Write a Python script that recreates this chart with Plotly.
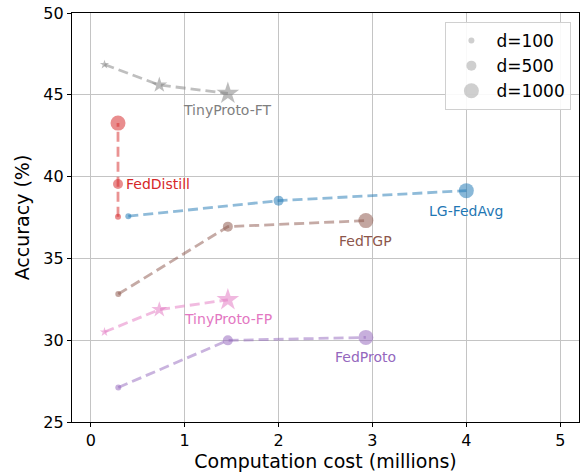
import plotly.graph_objects as go

# Computation cost (millions) and accuracy (%) for d = 100, 500, 1000
methods = ["TinyProto-FT", "FedDistill", "LG-FedAvg", "FedTGP", "TinyProto-FP", "FedProto"]
cost = {
    "TinyProto-FT": [0.146, 0.73, 1.46],
    "FedDistill":   [0.29, 0.29, 0.29],
    "LG-FedAvg":    [0.40, 2.00, 4.00],
    "FedTGP":       [0.293, 1.46, 2.93],
    "TinyProto-FP": [0.146, 0.73, 1.46],
    "FedProto":     [0.293, 1.46, 2.93],
}
accuracy = {
    "TinyProto-FT": [46.85, 45.6, 45.08],
    "FedDistill":   [37.55, 39.55, 43.27],
    "LG-FedAvg":    [37.58, 38.53, 39.14],
    "FedTGP":       [32.82, 36.94, 37.31],
    "TinyProto-FP": [30.5, 31.87, 32.47],
    "FedProto":     [27.11, 29.99, 30.17],
}
dims = ["d=100", "d=500", "d=1000"]

colors = {
    "TinyProto-FT": (127, 127, 127),
    "FedDistill":   (214, 39, 40),
    "LG-FedAvg":    (31, 119, 180),
    "FedTGP":       (140, 86, 75),
    "TinyProto-FP": (227, 119, 194),
    "FedProto":     (148, 103, 189),
}
symbols = {m: ("star" if m.startswith("TinyProto") else "circle") for m in methods}
circle_sizes = [6, 10, 15]
star_sizes = [7, 12, 17]

# label placement: (point index, xshift, yshift, xanchor)
label_pos = {
    "TinyProto-FT": (2, 0, -17, "center"),
    "FedDistill":   (1, 6, 0, "left"),
    "LG-FedAvg":    (2, 0, -20, "center"),
    "FedTGP":       (2, 0, -20, "center"),
    "TinyProto-FP": (2, 0, -19, "center"),
    "FedProto":     (2, 0, -20, "center"),
}

FONT = "DejaVu Sans"


def rgba(c, a):
    return f"rgba({c[0]},{c[1]},{c[2]},{a})"


fig = go.Figure()

for m in methods:
    c = colors[m]
    sizes = star_sizes if symbols[m] == "star" else circle_sizes
    fig.add_trace(go.Scatter(
        x=cost[m], y=accuracy[m], mode="lines+markers",
        line=dict(color=rgba(c, 0.5), width=2.8, dash="10px,5px"),
        marker=dict(symbol=symbols[m], size=sizes, color=rgba(c, 0.75),
                    line=dict(width=0)),
        showlegend=False, hoverinfo="skip",
    ))
    i, xs, ys, xa = label_pos[m]
    fig.add_annotation(
        x=cost[m][i], y=accuracy[m][i], text=m, showarrow=False,
        xshift=xs, yshift=ys, xanchor=xa, yanchor="middle",
        font=dict(family=FONT, size=14, color=rgba(c, 1)),
    )

# size legend
for d, s in zip(dims, circle_sizes):
    fig.add_trace(go.Scatter(
        x=[None], y=[None], mode="markers", name=d,
        marker=dict(symbol="circle", size=s, color="rgba(160,160,160,0.5)",
                    line=dict(width=0)),
    ))

axis_common = dict(
    showline=True, linecolor="black", linewidth=1.3, mirror=True,
    ticks="outside", ticklen=4, tickcolor="black", tickwidth=1,
    showgrid=True, gridcolor="#c4c4c4", gridwidth=1, zeroline=False,
    tickfont=dict(family=FONT, size=16, color="black"),
)

fig.update_layout(
    width=580, height=472,
    margin=dict(l=72, r=1, t=13, b=50),
    paper_bgcolor="white", plot_bgcolor="white",
    font=dict(family=FONT, color="black"),
    xaxis=dict(range=[-0.2, 5.2], tickvals=[0, 1, 2, 3, 4, 5],
               title=dict(text="Computation cost (millions)", standoff=4,
                          font=dict(family=FONT, size=19)),
               **axis_common),
    yaxis=dict(range=[25, 50], tickvals=[25, 30, 35, 40, 45, 50],
               title=dict(text="Accuracy (%)", standoff=8,
                          font=dict(family=FONT, size=19)),
               **axis_common),
    legend=dict(x=0.985, y=0.978, xanchor="right", yanchor="top",
                bgcolor="rgba(255,255,255,0.9)", bordercolor="#d0d0d0",
                borderwidth=1, font=dict(family=FONT, size=17),
                itemwidth=40, tracegroupgap=0),
)

fig.write_html("out.html")
